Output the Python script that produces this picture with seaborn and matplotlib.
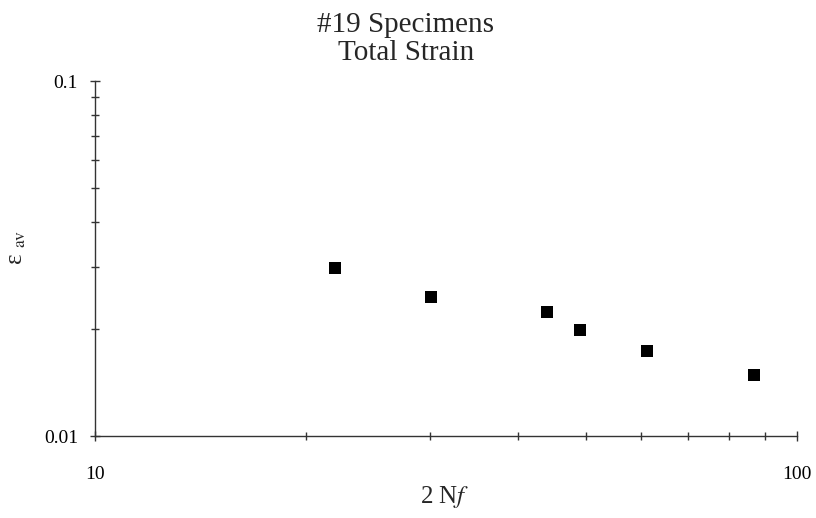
import numpy as np
import pandas as pd
import matplotlib
matplotlib.use("Agg")
import matplotlib.pyplot as plt
import seaborn as sns
from matplotlib.ticker import FixedLocator, NullFormatter, LogLocator

cycles = [22.0, 30.1, 44.0, 49.1, 61.1, 86.9]
strain = [0.0298, 0.0247, 0.0223, 0.0199, 0.0173, 0.0149]
x_ticks = [10, 100]
x_tick_labels = ["10", "100"]
y_ticks = [0.01, 0.1]
y_tick_labels = ["0.01", "0.1"]

df = pd.DataFrame({"cycles": cycles, "strain": strain})

sns.set_style("white")
plt.rcParams["font.family"] = ["Liberation Serif", "DejaVu Serif"]
plt.rcParams["mathtext.fontset"] = "stix"

fig = plt.figure(figsize=(8.16, 5.18), dpi=100)
ax = fig.add_axes([0.1164, 0.1583, 0.8603, 0.6853])

sns.scatterplot(data=df, x="cycles", y="strain", marker="s", s=70,
                color="black", edgecolor="black", linewidth=0, ax=ax)

ax.set_xscale("log")
ax.set_yscale("log")
ax.set_xlim(10, 100)
ax.set_ylim(0.01, 0.1)

ax.xaxis.set_major_locator(FixedLocator(x_ticks))
ax.set_xticklabels(x_tick_labels)
ax.yaxis.set_major_locator(FixedLocator(y_ticks))
ax.set_yticklabels(y_tick_labels)
ax.xaxis.set_minor_locator(LogLocator(base=10, subs=np.arange(2, 10)))
ax.yaxis.set_minor_locator(LogLocator(base=10, subs=np.arange(2, 10)))
ax.xaxis.set_minor_formatter(NullFormatter())
ax.yaxis.set_minor_formatter(NullFormatter())

for s in ["top", "right"]:
    ax.spines[s].set_visible(False)
for s in ["left", "bottom"]:
    ax.spines[s].set_color("#333333")
    ax.spines[s].set_linewidth(1.0)

ax.tick_params(axis="both", which="both", bottom=True, left=True,
               top=False, right=False)
ax.tick_params(axis="both", which="major", direction="inout", length=6.5,
               width=1, color="#333333", labelsize=14, labelcolor="black")
ax.tick_params(axis="both", which="minor", direction="inout", length=6,
               width=1, color="#333333")
ax.tick_params(axis="x", which="major", pad=18)
ax.tick_params(axis="y", which="major", pad=9)

ax.set_xlabel(r"2 N$\it{f}$", fontsize=18)
ax.xaxis.set_label_coords(0.4986, -0.135)
ax.set_ylabel(r"ε $_{\rm av}$", fontsize=18)
ax.yaxis.set_label_coords(-0.095, 0.53)

fig.text(0.4975, 0.976, "#19 Specimens\nTotal Strain", fontsize=21,
         ha="center", va="top", linespacing=1.1, multialignment="center")

fig.savefig("out.png", dpi=100)
